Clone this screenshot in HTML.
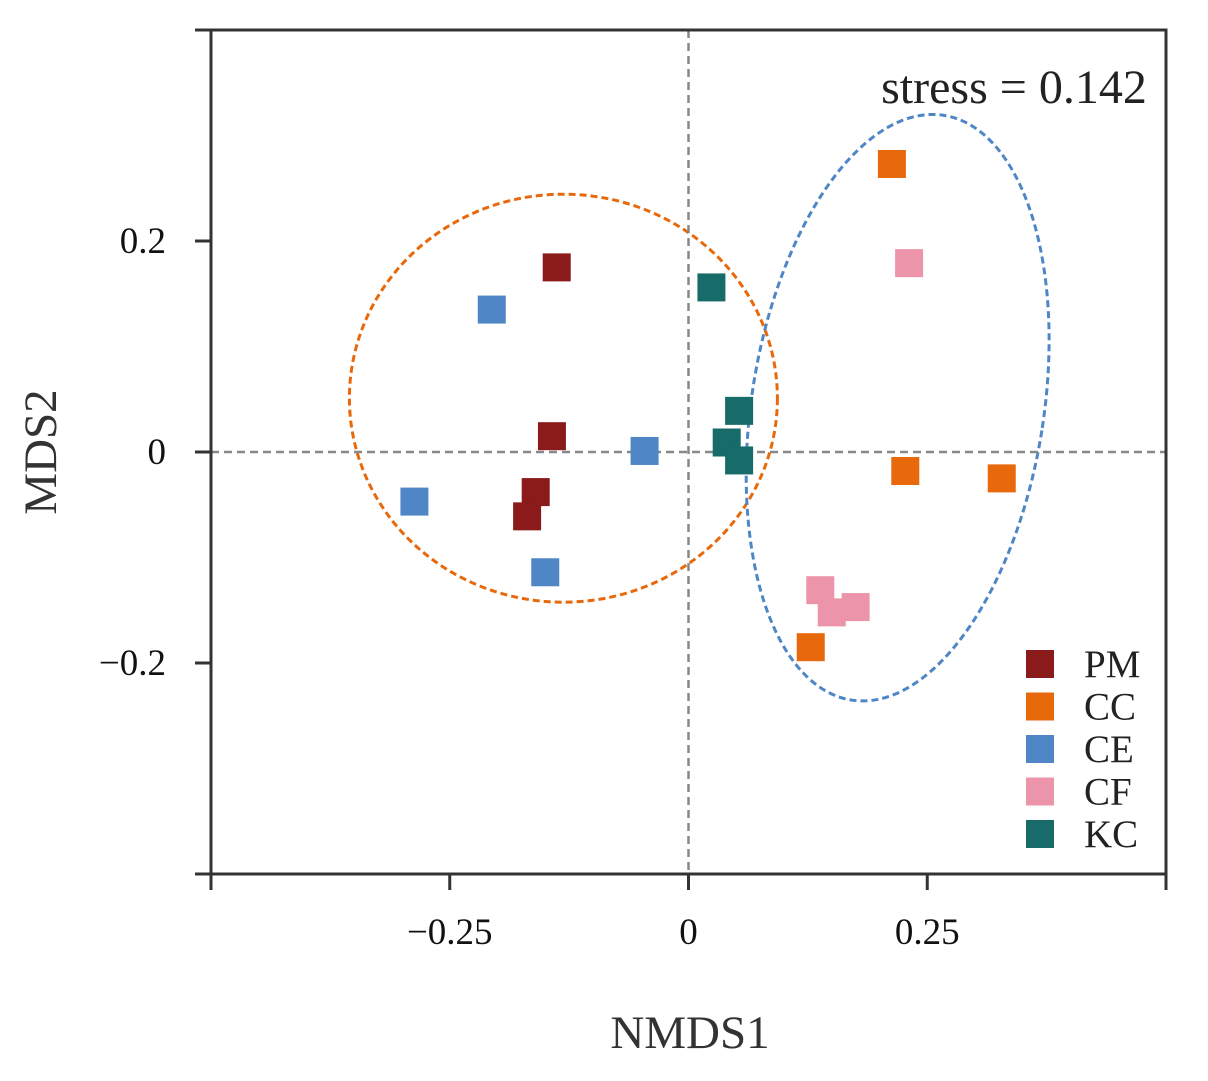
<!DOCTYPE html>
<html><head><meta charset="utf-8"><style>
html,body{margin:0;padding:0;background:#fff}
svg{display:block;font-family:"Liberation Serif",serif}
</style></head><body>
<svg id="chart" width="1208" height="1081" viewBox="0 0 1208 1081">
<g id="ell"></g>
<g id="grid"></g>
<g id="pts"></g>
<g id="axes"></g>
<text x="1014" y="103" font-size="48" text-anchor="middle" fill="#222">stress = 0.142</text>
<text x="690" y="1048" font-size="47" text-anchor="middle" fill="#333">NMDS1</text>
<text x="56" y="452" font-size="47" text-anchor="middle" fill="#333" transform="rotate(-90 56 452)">MDS2</text>
<g id="legend"></g>
</svg>
<script>
const groups=["PM","CC","CE","CF","KC"];
const colors=["#8b1a1a","#e8690b","#4f86c6","#ec94aa","#176b69"];
const pmX=[-0.138,-0.143,-0.160,-0.169], pmY=[0.175,0.015,-0.038,-0.061];
const ccX=[0.213,0.227,0.328,0.128], ccY=[0.273,-0.018,-0.025,-0.185];
const ceX=[-0.206,-0.046,-0.287,-0.150], ceY=[0.135,0.001,-0.047,-0.114];
const cfX=[0.231,0.138,0.150,0.175], cfY=[0.179,-0.131,-0.152,-0.147];
const kcX=[0.024,0.053,0.040,0.053], kcY=[0.156,0.039,0.009,-0.008];
const xTicks=[-0.5,-0.25,0,0.25,0.5], xTickLabels=["","\u22120.25","0","0.25",""];
const yTicks=[-0.4,-0.2,0,0.2,0.4], yTickLabels=["","\u22120.2","0","0.2",""];
const L=211,R=1166,T=30,B=874;
const X=v=>L+(v+0.5)/1.0*(R-L);
const Y=v=>B-(v+0.4)/0.8*(B-T);
const NS="http://www.w3.org/2000/svg";
function mk(tag,parent,attrs){const e=document.createElementNS(NS,tag);for(const k in attrs)e.setAttribute(k,attrs[k]);parent.appendChild(e);return e;}
const g=id=>document.getElementById(id);
let l=mk('line',g('grid'),{x1:X(0),x2:X(0),y1:T,y2:B,stroke:'#888','stroke-width':2.5,'stroke-dasharray':'8,5'});

l=mk('line',g('grid'),{x1:L,x2:R,y1:Y(0),y2:Y(0),stroke:'#888','stroke-width':2.5,'stroke-dasharray':'8,5'});

let e=mk('ellipse',g('ell'),{cx:X(-0.131),cy:Y(0.051),rx:214,ry:204,fill:'none',stroke:'#e8690b','stroke-width':3,'stroke-dasharray':'7,4'});

e=mk('ellipse',g('ell'),{cx:X(0.219),cy:Y(0.042),rx:146,ry:296,fill:'none',stroke:'#4f86c6','stroke-width':3,'stroke-dasharray':'7,4',transform:`rotate(9 ${X(0.219)} ${Y(0.042)})`});

const data=[[pmX,pmY],[ccX,ccY],[ceX,ceY],[cfX,cfY],[kcX,kcY]];
data.forEach((d,gi)=>{d[0].forEach((x,i)=>{const r=mk('rect',g('pts'),{x:X(x)-14,y:Y(d[1][i])-14,width:28,height:28,fill:colors[gi]});

});});
const ax=g('axes');
mk('path',ax,{d:`M${L},${T}V${B}H${R}V${T}H${L}`,fill:'none',stroke:'#333','stroke-width':3});
xTicks.forEach((v,i)=>{mk('line',ax,{x1:X(v),x2:X(v),y1:B,y2:B+16,stroke:'#333','stroke-width':3});
const t=mk('text',ax,{x:X(v),y:944,'font-size':37,'text-anchor':'middle',fill:'#111'});t.textContent=xTickLabels[i];
});
yTicks.forEach((v,i)=>{mk('line',ax,{x1:L-16,x2:L,y1:Y(v),y2:Y(v),stroke:'#333','stroke-width':3});
const t=mk('text',ax,{x:166,y:Y(v)+12,'font-size':37,'text-anchor':'end',fill:'#111'});t.textContent=yTickLabels[i];
});
groups.forEach((n,i)=>{const y=664+i*42.5;
const r=mk('rect',g('legend'),{x:1026,y:y-14,width:28,height:28,fill:colors[i]});

const t=mk('text',g('legend'),{x:1084,y:y+13,'font-size':39,fill:'#222'});t.textContent=n;
});
</script>
</body></html>
